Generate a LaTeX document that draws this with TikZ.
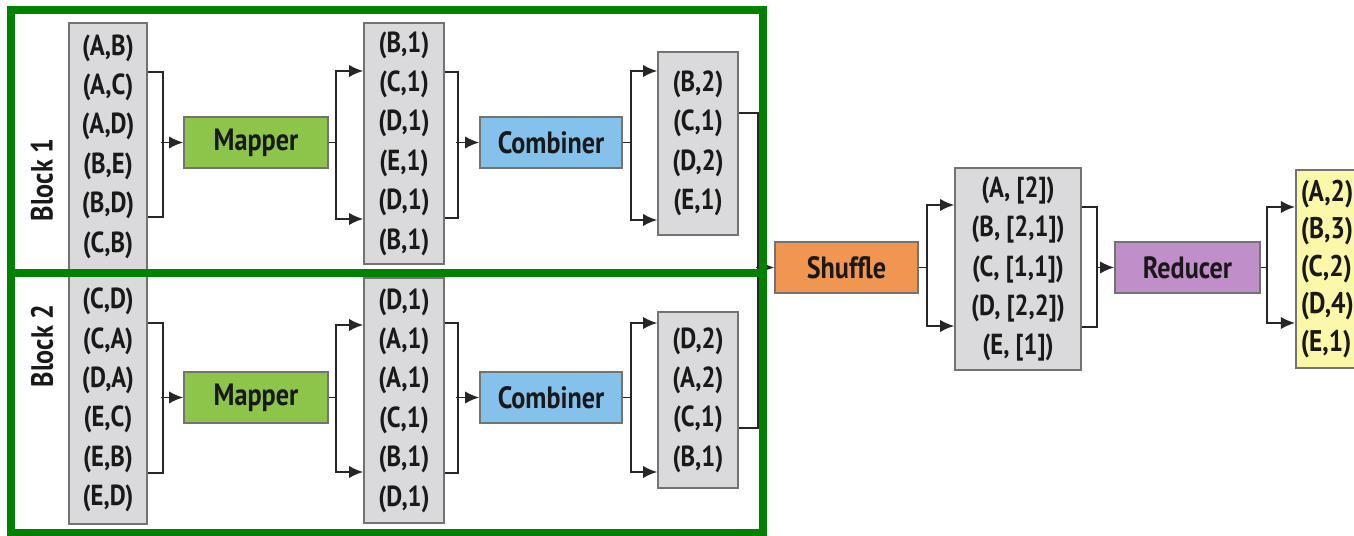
\documentclass[tikz,border=0pt]{standalone}
\usepackage{fontspec}
\setmainfont{PT Sans}[FakeStretch=0.85]
\usetikzlibrary{arrows.meta}
\definecolor{mapgreen}{RGB}{141,196,74}
\definecolor{combblue}{RGB}{132,194,236}
\definecolor{shufforange}{RGB}{241,150,80}
\definecolor{redpurple}{RGB}{192,142,200}
\definecolor{resyellow}{RGB}{252,248,170}
\definecolor{boxgray}{RGB}{218,218,220}
\definecolor{blockgreen}{RGB}{0,130,0}
\tikzset{
  list/.style={draw=gray!90!black,fill=boxgray,line width=0.9pt,inner sep=0pt,align=center,
    minimum width=1.6cm,font=\bfseries\fontsize{16.5}{22.4}\selectfont,text=black!90},
  proc/.style={draw=gray!90!black,line width=0.9pt,inner sep=0pt,minimum width=2.88cm,
    minimum height=1.02cm,font=\bfseries\fontsize{17.5}{18}\selectfont,text=black!90},
  link/.style={line width=1.1pt,draw=black!85},
  arr/.style={link,-{Latex[length=8pt,width=7pt]}},
  frame/.style={draw=blockgreen,line width=0.15cm},
  blocklabel/.style={rotate=90,font=\bfseries\fontsize{17.5}{18}\selectfont,text=black!90}
}
\begin{document}
\begin{tikzpicture}[x=0.02cm,y=0.02cm]
\useasboundingbox(0,0) rectangle (1354,536);
\fill[white](0,0) rectangle (1354,536);
\node[blocklabel](lab1) at (42,356){Block 1};
\node[blocklabel](lab2) at (42,190){Block 2};
\node[list,minimum width=1.56cm,minimum height=4.94cm](in1) at (108,389.5){(A,B)\\(A,C)\\(A,D)\\(B,E)\\(B,D)\\(C,B)};
\node[list,minimum width=1.56cm,minimum height=4.96cm](in2) at (108,136){(C,D)\\(C,A)\\(D,A)\\(E,C)\\(E,B)\\(E,D)};
\node[proc,fill=mapgreen](map1) at (256,393.5){Mapper};
\node[proc,fill=mapgreen](map2) at (256,138.5){Mapper};
\node[list,minimum height=4.82cm](mid1) at (404,392.5){(B,1)\\(C,1)\\(D,1)\\(E,1)\\(D,1)\\(B,1)};
\node[list,minimum height=4.9cm](mid2) at (404,135.5){(D,1)\\(A,1)\\(A,1)\\(C,1)\\(B,1)\\(D,1)};
\node[proc,fill=combblue,minimum width=2.84cm](comb1) at (551,393.5){Combiner};
\node[proc,fill=combblue,minimum width=2.84cm](comb2) at (551,138.5){Combiner};
\node[list,minimum height=3.66cm](out1) at (698,392.5){(B,2)\\(C,1)\\(D,2)\\(E,1)};
\node[list,minimum height=3.52cm](out2) at (698,136){(D,2)\\(A,2)\\(C,1)\\(B,1)};
\node[proc,fill=shufforange,minimum width=2.86cm](shuf) at (846.5,268.5){Shuffle};
\node[list,minimum width=2.52cm,minimum height=4.04cm](grp) at (1018,267){(A, [2])\\(B, [2,1])\\(C, [1,1])\\(D, [2,2])\\(E, [1])};
\node[proc,fill=redpurple,minimum width=2.9cm](reduce) at (1187.5,268.5){Reducer};
\node[list,fill=resyellow,anchor=west,align=left,text width=1.5cm,minimum height=3.96cm,inner xsep=0.1cm,
  font=\bfseries\fontsize{17}{21.3}\selectfont](res) at (1295,267){(A,2)\\(B,3)\\(C,2)\\(D,4)\\(E,1)};
\draw[link](in1.east|-0,464)--++(15,0)|-(in1.east|-0,319);
\draw[arr](map1.west)++(-22,0)--(map1.west);
\draw[arr](map1.east)--++(7,0)|-(mid1.west|-0,465);
\draw[arr](map1.east)++(7,0)|-(mid1.west|-0,317);
\draw[link](mid1.east|-0,464)--++(13,0)|-(mid1.east|-0,318);
\draw[arr](comb1.west)++(-23,0)--(comb1.west);
\draw[arr](comb1.east)--++(8,0)|-(out1.west|-0,465);
\draw[arr](comb1.east)++(8,0)|-(out1.west|-0,316);
\draw[link](in2.east|-0,213)--++(15,0)|-(in2.east|-0,63);
\draw[arr](map2.west)++(-22,0)--(map2.west);
\draw[arr](map2.east)--++(7,0)|-(mid2.west|-0,211);
\draw[arr](map2.east)++(7,0)|-(mid2.west|-0,64);
\draw[link](mid2.east|-0,213)--++(13,0)|-(mid2.east|-0,63);
\draw[arr](comb2.west)++(-23,0)--(comb2.west);
\draw[arr](comb2.east)--++(8,0)|-(out2.west|-0,213);
\draw[arr](comb2.east)++(8,0)|-(out2.west|-0,64);
\draw[link](out1.east|-0,423)--++(19,0)|-(out2.east|-0,108);
\draw[arr](shuf.west)++(-18,0)--(shuf.west);
\draw[arr](shuf.east)--++(8,0)|-(grp.west|-0,331);
\draw[arr](shuf.east)++(8,0)|-(grp.west|-0,210);
\draw[link](grp.east|-0,329)--++(15,0)|-(grp.east|-0,209);
\draw[arr](reduce.west)++(-18,0)--(reduce.west);
\draw[arr](reduce.east)--++(6,0)|-(res.west|-0,329);
\draw[arr](reduce.east)++(6,0)|-(res.west|-0,213);
\draw[frame](11,526) rectangle (763,3);
\draw[frame](11,263)--(763,263);
\end{tikzpicture}
\end{document}
